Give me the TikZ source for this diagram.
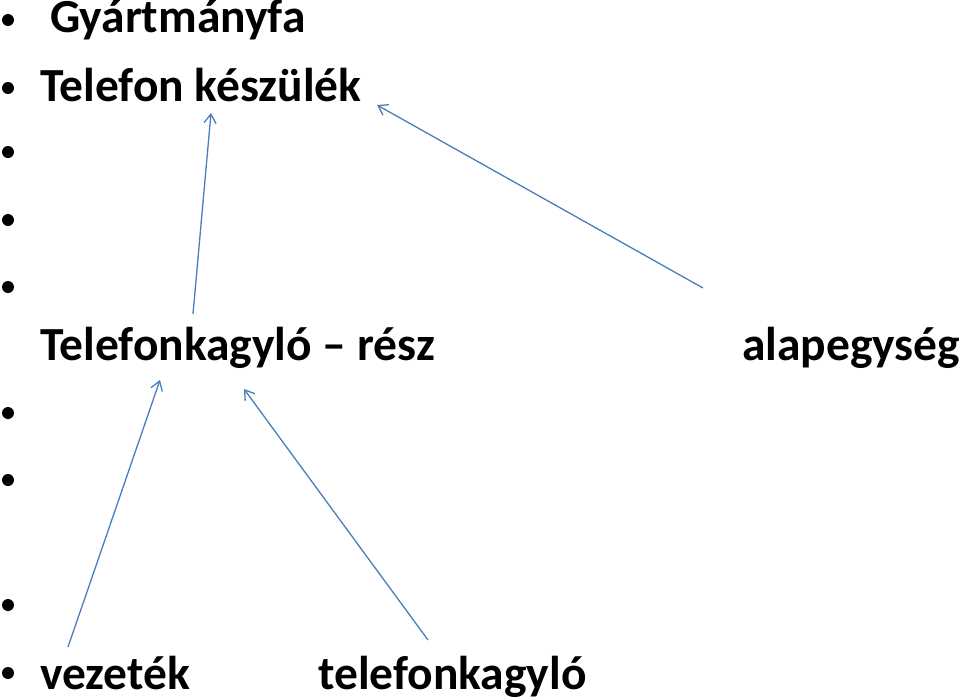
\documentclass[tikz,border=0pt]{standalone}
\usepackage{fontspec}
\setmainfont{Carlito}
\usetikzlibrary{arrows.meta,positioning}
\definecolor{arrblue}{RGB}{74,126,187}
\tikzset{
  lbl/.style={anchor=base west, inner sep=0pt, font=\fontsize{47.5}{52}\selectfont\bfseries},
  bul/.style={circle, fill=black, inner sep=0pt, minimum size=12pt},
  partarr/.style={-{Straight Barb[length=9pt,width=12pt]}, arrblue, line width=1.3pt},
}

\begin{document}
\begin{tikzpicture}[x=1pt,y=-1pt]
    \useasboundingbox (0,0) rectangle (959,699);
    % bullets
    \foreach \yy [count=\i] in {20,88,152,220,287,413,480,605,673}
      \node[bul] (b\i) at (8,\yy) {};
    % labels
    \node[lbl] (gyartm) at (50,32) {Gyártmányfa};
    \node[lbl] (keszulek) at (40,101) {Telefon készülék};
    \node[lbl] (kagyresz) at (40,360) {Telefonkagyló – rész};
    \node[lbl] (alap) at (742,360) {alapegység};
    \node[lbl] (vezetek) at (40,689) {vezeték};
    \node[lbl] (kagylo) at (318,689) {telefonkagyló};
    % arrow ends
    \coordinate (t1) at (193,314);
    \coordinate (h1) at (211,113);
    \coordinate (t2) at (703,288);
    \coordinate (h2) at (377,105);
    \coordinate (t3) at (68,647);
    \coordinate (h3) at (160,380);
    \coordinate (t4) at (428,640);
    \coordinate (h4) at (244,389);
    \draw[partarr] (t1) -- (h1);
    \draw[partarr] (t2) -- (h2);
    \draw[partarr] (t3) -- (h3);
    \draw[partarr] (t4) -- (h4);
\end{tikzpicture}
\end{document}
